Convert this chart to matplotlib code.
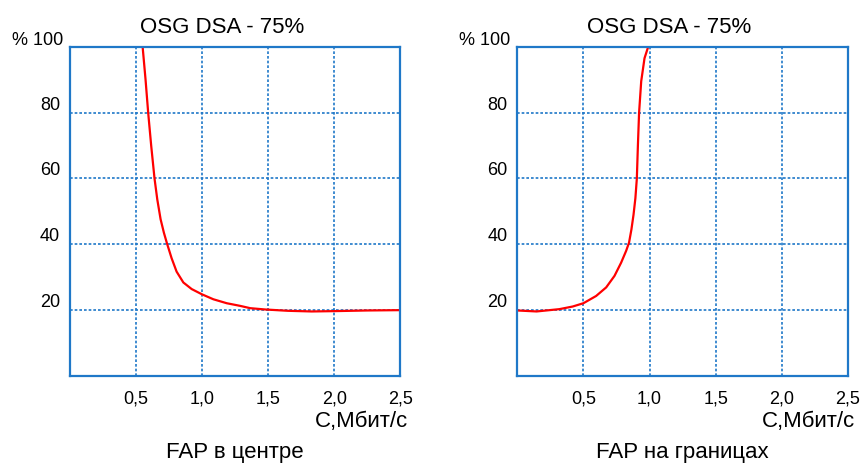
import numpy as np
import matplotlib
matplotlib.use('Agg')
from matplotlib import pyplot as plt
from matplotlib.transforms import ScaledTranslation

plt.rcParams['font.family'] = ['Liberation Sans', 'DejaVu Sans']

# кривые, снятые по точкам (C, Мбит/с -> %)
center_x = [0.551, 0.573, 0.593, 0.616, 0.641, 0.662, 0.687, 0.712, 0.735, 0.770,
            0.808, 0.859, 0.922, 1.0, 1.086, 1.187, 1.288, 1.364, 1.477, 1.65,
            1.83, 2.0, 2.25, 2.5]
center_y = [100, 90.1, 80, 69.9, 60, 53.6, 47.6, 43.5, 40.3, 35.8,
            31.7, 28.4, 26.4, 24.8, 23.3, 22.1, 21.3, 20.6, 20.2, 19.8,
            19.6, 19.7, 19.9, 20.0]

edge_x = [0.0, 0.146, 0.318, 0.419, 0.5, 0.596, 0.672, 0.735, 0.785, 0.823,
          0.845, 0.863, 0.879, 0.893, 0.904, 0.912, 0.921, 0.937, 0.962, 0.990]
edge_y = [19.9, 19.6, 20.3, 21.1, 22.1, 24.3, 26.9, 30.4, 34.4, 38.0,
          40.5, 44.5, 49.0, 54.0, 60, 70, 80, 89.5, 96.5, 100]

x_ticks = [0.5, 1.0, 1.5, 2.0, 2.5]
x_labels = ['0,5', '1,0', '1,5', '2,0', '2,5']
y_ticks = [20, 40, 60, 80, 100]
y_labels = ['20', '40', '60', '80', '% 100']

title = 'OSG DSA - 75%'
xlabel = 'С,Мбит/с'
captions = ['FAP в центре', 'FAP на границах']

blue = '#1f78c8'

fig = plt.figure(figsize=(8.61, 4.64), dpi=100)
ax1 = fig.add_axes([0.081, 0.1875, 0.384, 0.7097])
ax2 = fig.add_axes([0.6008, 0.1875, 0.384, 0.7097])

for ax, xs, ys, cap in [(ax1, center_x, center_y, captions[0]),
                        (ax2, edge_x, edge_y, captions[1])]:
    ax.plot(xs, ys, color='#ff0000', lw=1.6, zorder=3,
            solid_joinstyle='round', solid_capstyle='round')
    ax.set_xlim(0, 2.5)
    ax.set_ylim(0, 100)
    ax.set_xticks(x_ticks)
    ax.set_xticklabels(x_labels, fontsize=13)
    ax.set_yticks(y_ticks)
    ax.set_yticklabels(y_labels, fontsize=13)
    ax.tick_params(length=0)
    ax.tick_params(axis='x', pad=10)
    ax.tick_params(axis='y', pad=7)
    for lab in ax.get_yticklabels():
        lab.set_verticalalignment('bottom')
    top = ax.get_yticklabels()[-1]
    top.set_transform(top.get_transform() + ScaledTranslation(0.03, -0.01, fig.dpi_scale_trans))
    ax.grid(True, color=blue, lw=1.2, linestyle=(0, (1.6, 1.2)))
    for sp in ax.spines.values():
        sp.set_color(blue)
        sp.set_linewidth(1.6)
        sp.set_zorder(4)
    ax.text(0.46, 1.045, title, transform=ax.transAxes, ha='center', va='baseline', fontsize=16)
    ax.text(1.023, -0.152, xlabel, transform=ax.transAxes, ha='right', va='baseline', fontsize=16)
    ax.text(0.5, -0.246, cap, transform=ax.transAxes, ha='center', va='baseline', fontsize=16)

plt.savefig('out.png', dpi=100)
